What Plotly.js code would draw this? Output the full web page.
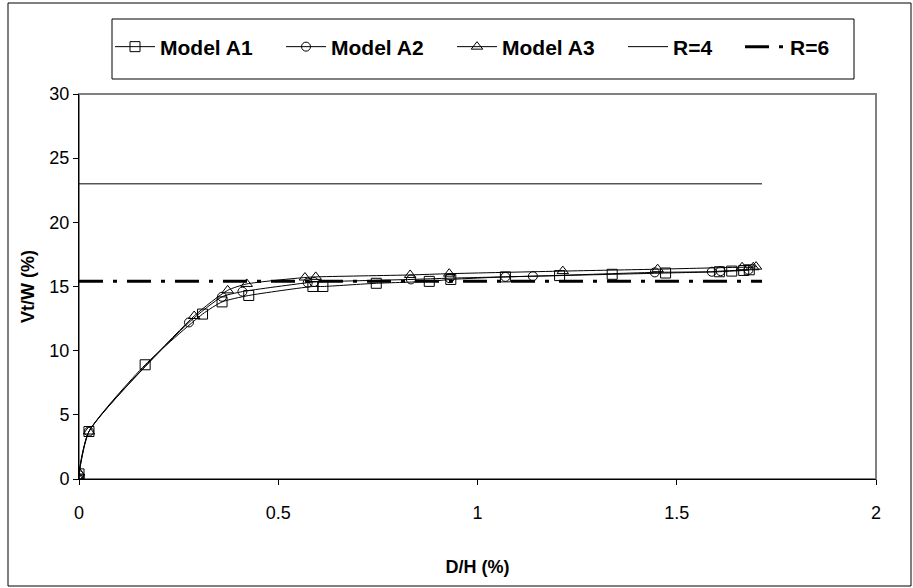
<!DOCTYPE html>
<html>
<head>
<meta charset="utf-8">
<script src="https://cdn.plot.ly/plotly-3.0.1.min.js"></script>
<style>html,body{margin:0;padding:0;background:#fff}#chart{width:913px;height:588px}</style>
</head>
<body>
<div id="chart"></div>
<script>
// Model A1 (squares)
const a1X = [0, 0, 0.025, 0.166, 0.31, 0.359, 0.426, 0.587, 0.612, 0.746, 0.879, 0.933, 1.07, 1.206, 1.338, 1.472, 1.607, 1.638, 1.668, 1.682];
const a1Y = [0, 0.4, 3.7, 8.9, 12.85, 13.8, 14.3, 15.0, 15.0, 15.25, 15.4, 15.55, 15.75, 15.85, 15.95, 16.05, 16.15, 16.2, 16.25, 16.3];
// Model A2 (circles)
const a2X = [0, 0, 0.025, 0.276, 0.359, 0.41, 0.574, 0.59, 0.833, 0.93, 1.07, 1.139, 1.445, 1.588, 1.61, 1.68];
const a2Y = [0, 0.3, 3.7, 12.2, 14.2, 14.6, 15.3, 15.35, 15.55, 15.65, 15.75, 15.8, 16.1, 16.15, 16.2, 16.3];
// Model A3 (triangles)
const a3X = [0, 0, 0.025, 0.289, 0.373, 0.421, 0.567, 0.594, 0.831, 0.929, 1.214, 1.452, 1.664, 1.692, 1.699];
const a3Y = [0, 0.5, 3.7, 12.7, 14.7, 15.2, 15.7, 15.75, 15.9, 16.0, 16.2, 16.35, 16.5, 16.5, 16.55];
// Reference lines
const r4X = [0, 1.714];
const r4Y = [23, 23];
const r6X = [0, 1.714];
const r6Y = [15.4, 15.4];
const xTicks = [0, 0.5, 1, 1.5, 2];
const xTickText = ["0", "0.5", "1", "1.5", "2"];
const yTicks = [0, 5, 10, 15, 20, 25, 30];

const FONT = "Liberation Sans, Arial, sans-serif";
const mk = (sym, size) => ({symbol: sym, size: size, color: "#000", line: {color: "#000", width: 1}});
const traces = [
  {x: a1X, y: a1Y, name: "Model A1", legendwidth: 116, mode: "lines+markers", line: {color: "#000", width: 1, shape: "spline", smoothing: 0.6}, marker: mk("square-open", 10)},
  {x: a2X, y: a2Y, name: "Model A2", legendwidth: 116, mode: "lines+markers", line: {color: "#000", width: 1, shape: "spline", smoothing: 0.6}, marker: mk("circle-open", 9)},
  {x: a3X, y: a3Y, name: "Model A3", legendwidth: 116, mode: "lines+markers", line: {color: "#000", width: 1, shape: "spline", smoothing: 0.6}, marker: mk("triangle-up-open", 10)},
  {x: r4X, y: r4Y, name: "R=4", legendwidth: 62, mode: "lines", line: {color: "#000", width: 1}},
  {x: r6X, y: r6Y, name: "R=6", legendwidth: 42, mode: "lines", line: {color: "#000", width: 3, dash: "24px,10px,4px,10px"}}
];

const L = 79, R = 876, T = 94, B = 479, W = 913, H = 588;
const px = v => (v - L) / (R - L);
const py = v => (B - v) / (B - T);

const layout = {
  width: W, height: H,
  margin: {l: L, r: W - R, t: T, b: H - B, pad: 0},
  paper_bgcolor: "#fff", plot_bgcolor: "#fff",
  font: {family: FONT, color: "#000", size: 18},
  showlegend: true,
  legend: {orientation: "h", x: px(110), y: py(47), xanchor: "left", yanchor: "middle",
           bgcolor: "rgba(0,0,0,0)", borderwidth: 0, font: {family: FONT, size: 21, color: "#000", weight: "bold"},
           itemwidth: 40, tracegroupgap: 0},
  xaxis: {range: [0, 2], tickvals: xTicks, ticktext: xTickText, ticks: "outside", ticklen: 5, tickcolor: "#000",
          showline: true, linecolor: "#000", linewidth: 1, showgrid: false, zeroline: false,
          tickfont: {family: FONT, size: 18}, ticklabelstandoff: 12, fixedrange: true,
          title: {text: "<b>D/H (%)</b>", font: {family: FONT, size: 18}, standoff: 38}},
  yaxis: {range: [0, 30], tickvals: yTicks, ticks: "outside", ticklen: 5, tickcolor: "#000",
          showline: true, linecolor: "#000", linewidth: 1, showgrid: false, zeroline: false,
          tickfont: {family: FONT, size: 18}, fixedrange: true,
          title: {text: "<b>Vt/W (%)</b>", font: {family: FONT, size: 18}, standoff: 10}},
  shapes: [
    {type: "rect", xref: "paper", yref: "paper", x0: 0, x1: 1, y0: 0, y1: 1, line: {color: "#808080", width: 2}, layer: "below"},
    {type: "rect", xref: "paper", yref: "paper", x0: px(112), x1: px(854), y0: py(79), y1: py(19), line: {color: "#000", width: 1}},
    {type: "rect", xref: "paper", yref: "paper", x0: px(8), x1: px(911), y0: py(586), y1: py(3), line: {color: "#000", width: 1}}
  ]
};

Plotly.newPlot("chart", traces, layout, {staticPlot: true, displayModeBar: false});
</script>
</body>
</html>
